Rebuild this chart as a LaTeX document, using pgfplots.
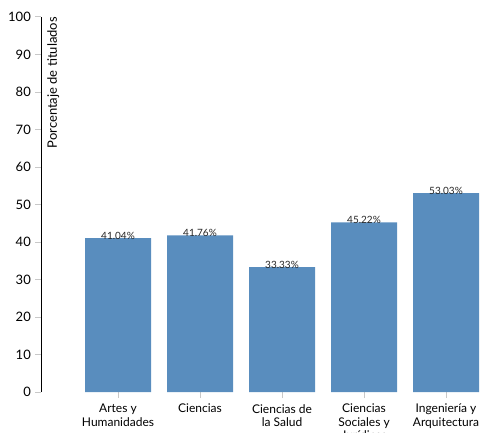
\documentclass[border=0pt]{standalone}
\usepackage{fontspec}
\setmainfont{Lato}
\usepackage{pgfplots}
\pgfplotsset{compat=1.18}
\definecolor{barblue}{RGB}{89,141,190}
\definecolor{tickgrey}{RGB}{200,200,200}
\begin{document}
\begin{tikzpicture}
\path[use as bounding box] (0,0) rectangle (481pt,432pt);
\begin{axis}[
  at={(41pt,40pt)}, anchor=south west,
  scale only axis, width=440pt, height=375pt,
  xmin=-0.93902, xmax=4.42683,
  ymin=0, ymax=100,
  clip=false,
  axis y line*=left,
  axis x line*=bottom,
  x axis line style={draw=none},
  y axis line style={black, line width=1pt, -},
  tick align=outside,
  major tick length=6pt,
  xtick={0,1,2,3,4},
  xticklabels={{Artes y\\Humanidades},{Ciencias},{Ciencias de\\la Salud},{Ciencias\\Sociales y\\Jurídicas},{Ingeniería y\\Arquitectura}},
  xtick style={tickgrey, line width=1pt},
  xticklabel style={font=\fontsize{12}{13.2}\selectfont, align=center, inner sep=0pt, anchor=north, yshift=-6pt},
  ytick={10,20,...,90},
  ytick style={tickgrey, line width=1pt},
  extra y ticks={0,100},
  extra y tick style={tick style={black, line width=1pt}},
  yticklabel style={font=\fontsize{13}{14}\selectfont, inner sep=0pt, anchor=east, xshift=-4pt},
  /pgf/number format/assume math mode=true,
  ylabel={Porcentaje de titulados},
  ylabel style={font=\fontsize{13}{15}\selectfont, at={(axis description cs:0.01364,1)}, anchor=north east, inner sep=0pt},
  nodes near coords={\pgfmathprintnumber[fixed,fixed zerofill,precision=2]{\pgfplotspointmeta}\%},
  every node near coord/.append style={font=\fontsize{10}{12}\selectfont, anchor=base, inner sep=0pt, yshift=-1pt, text=black!85},
]
\addplot[ybar, bar width=66pt, fill=barblue, draw=none, bar shift=0pt] coordinates {
  (0,41.04) (1,41.76) (2,33.33) (3,45.22) (4,53.03)
};
\end{axis}
\end{tikzpicture}
\end{document}
